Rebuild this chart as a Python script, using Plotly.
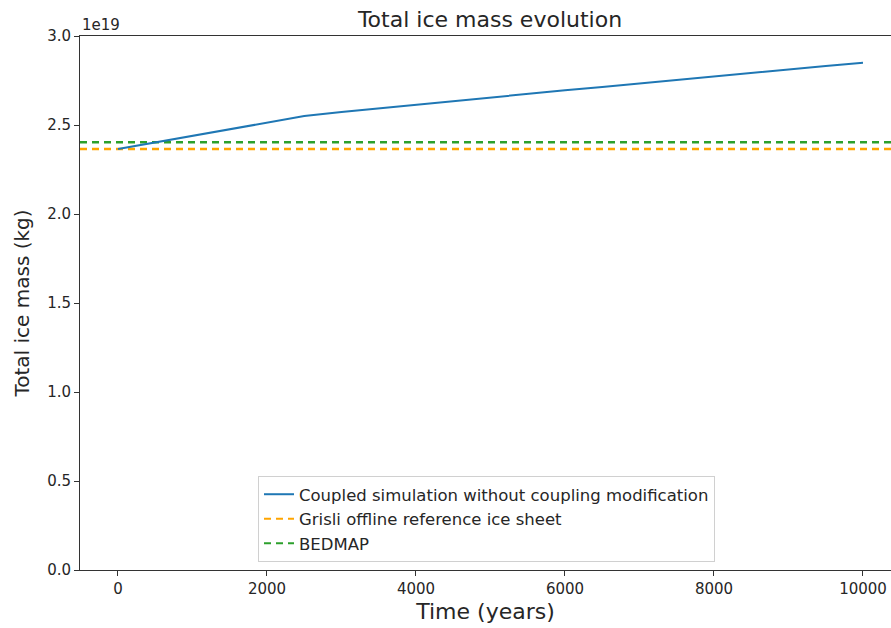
import plotly.graph_objects as go

# Data (ice mass in units of 1e19 kg)
years = [0, 500, 1000, 1500, 2000, 2500, 3000, 3500, 4000, 4500, 5000,
         5500, 6000, 6500, 7000, 7500, 8000, 8500, 9000, 9500, 10000]
coupled_mass = [2.365, 2.402, 2.442, 2.480, 2.515, 2.550, 2.573, 2.594, 2.613, 2.633, 2.654,
                2.675, 2.695, 2.713, 2.733, 2.755, 2.775, 2.794, 2.813, 2.832, 2.850]
grisli_ref = 2.365
bedmap_ref = 2.403

x_ticks = [0, 2000, 4000, 6000, 8000, 10000]
y_ticks = [0.0, 0.5, 1.0, 1.5, 2.0, 2.5, 3.0]

FONT = "DejaVu Sans"
TXT = "#262626"
BLUE = "#1f77b4"
ORANGE = "#FFA500"
GREEN = "#2ca02c"
DASH = "7px,5px"

fig = go.Figure()
fig.add_trace(go.Scatter(x=years, y=coupled_mass, mode="lines",
                         line=dict(color=BLUE, width=2),
                         name="Coupled simulation without coupling modification"))
fig.add_trace(go.Scatter(x=[None], y=[None], mode="lines",
                         line=dict(color=ORANGE, width=2, dash=DASH),
                         name="Grisli offline reference ice sheet"))
fig.add_trace(go.Scatter(x=[None], y=[None], mode="lines",
                         line=dict(color=GREEN, width=2, dash=DASH),
                         name="BEDMAP"))

for val, col in [(grisli_ref, ORANGE), (bedmap_ref, GREEN)]:
    fig.add_shape(type="line", xref="x domain", yref="y", x0=0, x1=1, y0=val, y1=val,
                  line=dict(color=col, width=2.5, dash=DASH), layer="below")

fig.update_layout(
    width=891, height=628,
    margin=dict(l=80, r=0, t=36, b=628 - 570, autoexpand=False),
    paper_bgcolor="white", plot_bgcolor="white",
    font=dict(family=FONT, color=TXT, size=15),
    title=dict(text="Total ice mass evolution", x=(490 - 80) / 811, xanchor="center",
               xref="paper", yref="container", y=1 - 19 / 628, yanchor="middle",
               font=dict(size=22, color=TXT)),
    showlegend=True,
    legend=dict(x=(258 - 80) / 811, y=(570 - 562) / 534, xanchor="left", yanchor="bottom",
                bgcolor="rgba(255,255,255,0.8)", bordercolor="#d0d0d0", borderwidth=1,
                font=dict(size=16.5, color=TXT), tracegroupgap=0, itemwidth=30),
    annotations=[dict(text="1e19", xref="paper", yref="paper", x=0, y=1.0,
                      xanchor="left", yanchor="bottom", showarrow=False,
                      font=dict(size=15, color=TXT), yshift=0)],
)
fig.update_xaxes(range=[-510, 10376], tickvals=x_ticks, ticktext=[str(v) for v in x_ticks],
                 showgrid=False, zeroline=False, showline=True, linecolor="#333333",
                 linewidth=1, mirror=True, ticks="outside", ticklen=5, tickcolor="#333333",
                 tickfont=dict(size=15), automargin=False,
                 title=dict(text="Time (years)", font=dict(size=22), standoff=6))
fig.update_yaxes(range=[0, 3.0], tickvals=y_ticks, ticktext=[f"{v:.1f}" for v in y_ticks],
                 showgrid=False, zeroline=False, showline=True, linecolor="#333333",
                 linewidth=1, ticks="outside", ticklen=5, tickcolor="#333333",
                 tickfont=dict(size=15), automargin=False,
                 title=dict(text="Total ice mass (kg)", font=dict(size=20), standoff=12))

fig.write_html("out.html", config={"displayModeBar": False},
               post_script="document.body.style.margin='0';document.body.style.overflow='hidden';")
